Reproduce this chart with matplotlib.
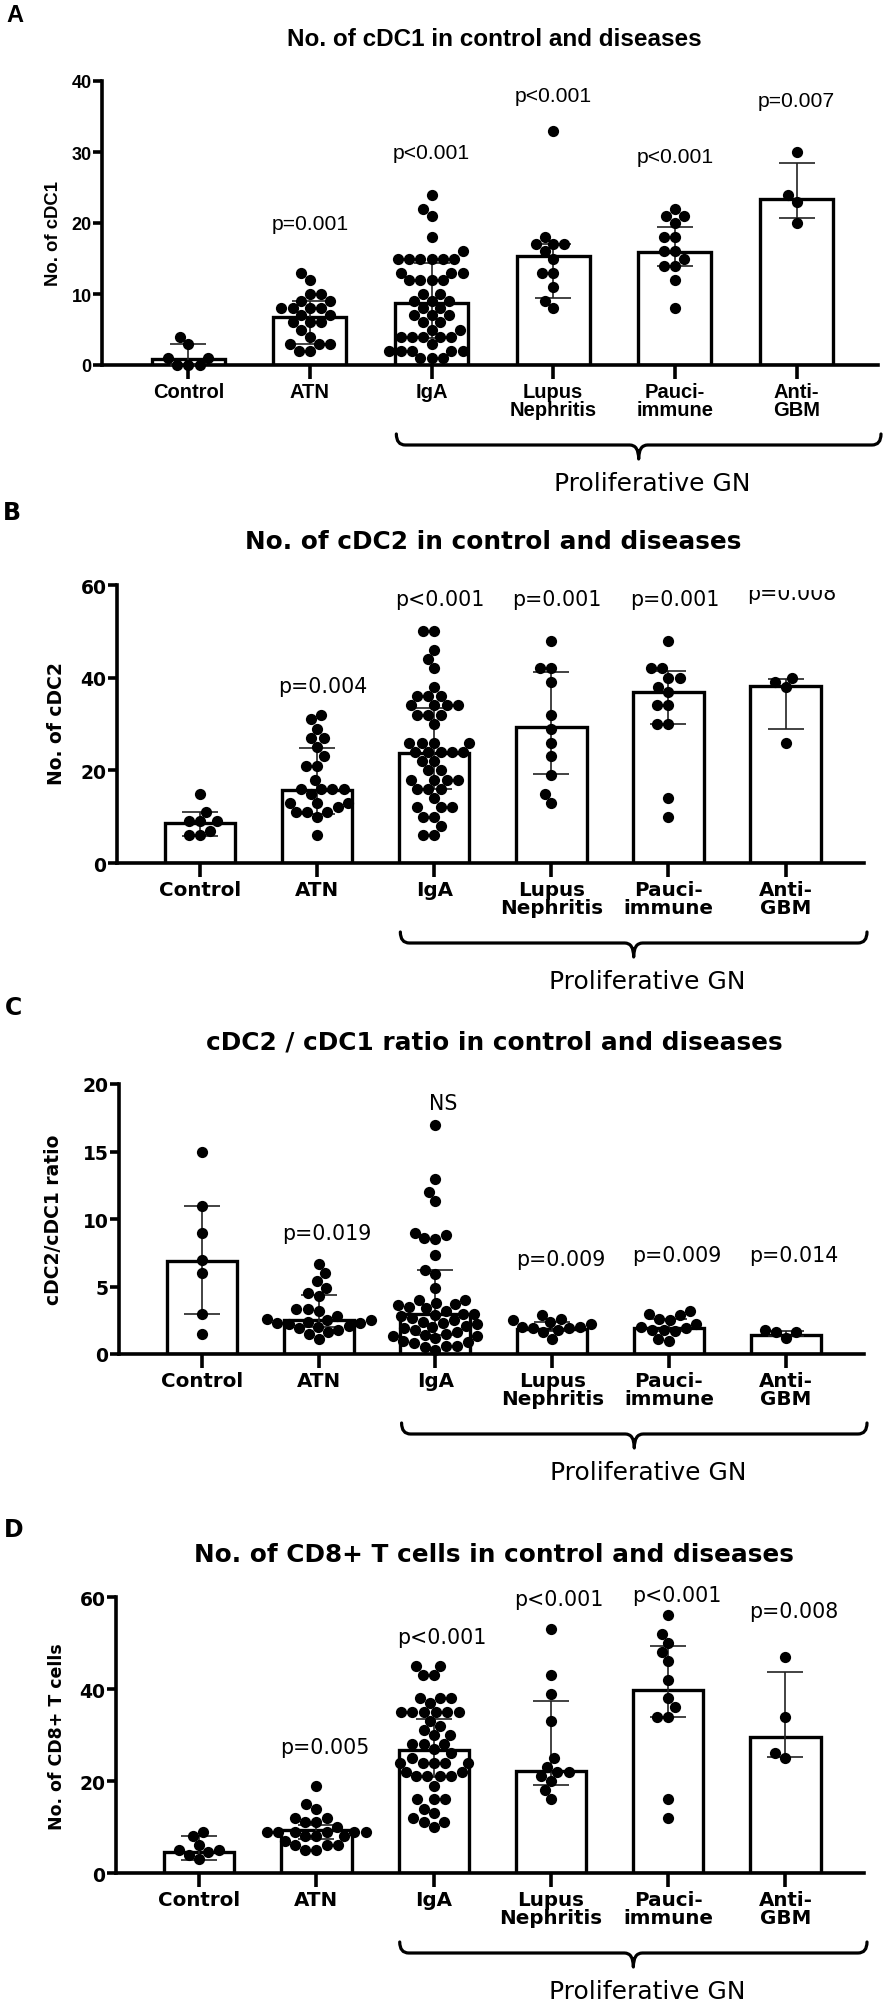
import numpy as np
import matplotlib
matplotlib.use("Agg")
import matplotlib.pyplot as plt
from matplotlib.path import Path
from matplotlib.patches import PathPatch
from matplotlib.transforms import IdentityTransform, Bbox, TransformedBbox

W, H = 886, 2006

categories = ["Control", "ATN", "IgA", "Lupus\nNephritis", "Pauci-\nimmune", "Anti-\nGBM"]

# ---------------- Panel A : No. of cDC1 ----------------
a_control = [0, 0, 0, 1, 1, 3, 4]
a_atn = [13, 12, 10, 10, 9, 9, 8, 8, 8, 8, 7, 7, 6, 6, 6, 5, 4, 3, 3, 3, 2, 2]
a_iga = [24, 22, 21, 18, 16, 15, 15, 15, 15, 15, 15, 13, 13, 13, 12, 12, 12, 12, 10, 10,
         9, 9, 9, 8, 8, 7, 7, 7, 6, 6, 5, 5, 4, 4, 4, 4, 4, 3, 2, 2, 2, 2, 2, 1, 1, 1]
a_lupus = [33, 18, 17, 17, 17, 16, 15, 13, 13, 11, 9, 8]
a_pauci = [22, 21, 21, 20, 18, 18, 16, 16, 15, 14, 14, 12, 8]
a_antigbm = [30, 24, 23, 20]
a_median = [0.8, 6.7, 8.8, 15.4, 15.9, 23.4]
a_err_low = [0.0, 3.0, 3.8, 9.5, 13.9, 20.7]
a_err_high = [3.0, 9.0, 14.4, 17.0, 19.5, 28.5]
a_pvalues = ["", "p=0.001", "p<0.001", "p<0.001", "p<0.001", "p=0.007"]
a_p_y = [0, 20.0, 29.9, 37.9, 29.4, 37.3]

# ---------------- Panel B : No. of cDC2 ----------------
b_control = [15, 11, 9, 9, 9, 7, 6, 6]
b_atn = [32, 31, 29, 27, 27, 25, 23, 21, 21, 18, 16, 16, 16, 16, 15, 13, 13, 13, 12, 11,
         11, 11, 10, 6]
b_iga = [50, 50, 46, 44, 42, 38, 36, 36, 36, 34, 34, 34, 34, 32, 32, 32, 30, 26, 26, 26,
         26, 24, 24, 24, 24, 24, 22, 22, 20, 20, 18, 18, 18, 18, 16, 16, 16, 14, 12, 12,
         12, 10, 10, 8, 6, 6]
b_lupus = [48, 42, 42, 39, 32, 29, 26, 23, 19, 15, 13]
b_pauci = [48, 42, 42, 40, 40, 38, 37, 34, 34, 30, 30, 14, 10]
b_antigbm = [40, 39, 38, 26]
b_median = [8.7, 15.8, 23.8, 29.3, 36.9, 38.3]
b_err_low = [5.8, 10.6, 16.0, 19.3, 30.0, 29.0]
b_err_high = [10.9, 24.8, 33.5, 41.3, 41.5, 39.8]
b_pvalues = ["", "p=0.004", "p<0.001", "p=0.001", "p=0.001", "p=0.008"]
b_p_y = [0, 38.3, 57.0, 57.0, 57.0, 58.2]

# ---------------- Panel C : cDC2 / cDC1 ratio ----------------
c_control = [15, 11, 9, 7, 6, 3, 1.5]
c_atn = [6.7, 6.0, 5.4, 4.9, 4.5, 4.3, 3.3, 3.3, 3.2, 2.8, 2.6, 2.5, 2.5, 2.4, 2.3, 2.3,
         2.2, 2.1, 2.0, 1.9, 1.8, 1.6, 1.5, 1.1]
c_iga = [17, 13, 12, 11.3, 9, 8.8, 8.6, 8.5, 7.3, 6.2, 5.9, 4.9, 4.0, 4.0, 3.8, 3.7, 3.6,
         3.5, 3.4, 3.2, 3.0, 3.0, 2.9, 2.8, 2.7, 2.5, 2.4, 2.3, 2.2, 2.1, 2.0, 1.9, 1.8,
         1.6, 1.5, 1.4, 1.3, 1.3, 1.2, 1.0, 0.9, 0.8, 0.6, 0.6, 0.5, 0.3]
c_lupus = [2.9, 2.6, 2.5, 2.4, 2.2, 2.0, 2.0, 1.9, 1.9, 1.8, 1.6, 1.1]
c_pauci = [3.2, 3.0, 2.9, 2.6, 2.5, 2.2, 2.0, 1.9, 1.8, 1.8, 1.7, 1.1, 1.0]
c_antigbm = [1.8, 1.6, 1.6, 1.2]
c_median = [6.9, 2.5, 3.0, 1.85, 1.9, 1.4]
c_err_low = [3.0, 2.0, 1.4, 1.7, 1.7, 1.3]
c_err_high = [11.0, 4.4, 6.2, 2.4, 2.6, 1.7]
c_pvalues = ["", "p=0.019", "NS", "p=0.009", "p=0.009", "p=0.014"]
c_p_y = [0, 9.0, 18.6, 7.0, 7.3, 7.3]

# ---------------- Panel D : No. of CD8+ T cells ----------------
d_control = [9, 8, 6, 5, 5, 4.5, 4, 3]
d_atn = [19, 15, 14, 12, 12, 11, 11, 10, 9, 9, 9, 9, 9, 9, 8, 8, 8, 7, 6, 6, 6, 5, 5]
d_iga = [45, 45, 43, 43, 38, 38, 38, 37, 35, 35, 35, 35, 35, 35, 33, 32, 31, 30, 30, 28,
         28, 28, 27, 26, 25, 24, 24, 24, 24, 24, 22, 22, 21, 21, 21, 21, 19, 16, 16, 16,
         14, 13, 12, 11, 11, 10]
d_lupus = [53, 43, 39, 33, 25, 23, 22, 22, 21, 20, 18, 16]
d_pauci = [56, 52, 50, 48, 46, 42, 38, 36, 34, 34, 16, 12]
d_antigbm = [47, 34, 26, 25]
d_median = [4.5, 9.4, 26.7, 22.2, 39.7, 29.6]
d_err_low = [2.9, 7.5, 20.8, 19.2, 33.9, 25.2]
d_err_high = [8.0, 10.5, 33.5, 37.5, 49.4, 43.6]
d_pvalues = ["", "p=0.005", "p<0.001", "p<0.001", "p<0.001", "p=0.008"]
d_p_y = [0, 27.3, 51.2, 59.6, 60.4, 57.0]

panels = [
    dict(letter="A", title="No. of cDC1 in control and diseases", ylabel="No. of cDC1",
         groups=[a_control, a_atn, a_iga, a_lupus, a_pauci, a_antigbm],
         med=a_median, lo=a_err_low, hi=a_err_high, pv=a_pvalues, pvy=a_p_y,
         ymax=40, yticks=[0, 10, 20, 30, 40],
         box=(102, 878, 82, 366), fam="Liberation Sans",
         title_xy=(494, 40), title_fs=17.5, letter_xy=(15, 16),
         ylab_xy=(54, 234), ylab_fs=13.3, ytick_fs=13, xtick_fs=14.5, p_fs=15.2, p_dx=0.0,
         p_clip_top=None),
    dict(letter="B", title="No. of cDC2 in control and diseases", ylabel="No. of cDC2",
         groups=[b_control, b_atn, b_iga, b_lupus, b_pauci, b_antigbm],
         med=b_median, lo=b_err_low, hi=b_err_high, pv=b_pvalues, pvy=b_p_y,
         ymax=60, yticks=[0, 20, 40, 60],
         box=(117, 864, 586, 864), fam="DejaVu Sans",
         title_xy=(493, 542), title_fs=17.8, letter_xy=(12, 513),
         ylab_xy=(57, 724), ylab_fs=13.5, ytick_fs=13.5, xtick_fs=14.3, p_fs=14.8, p_dx=0.05,
         p_clip_top=591),
    dict(letter="C", title="cDC2 / cDC1 ratio in control and diseases", ylabel="cDC2/cDC1 ratio",
         groups=[c_control, c_atn, c_iga, c_lupus, c_pauci, c_antigbm],
         med=c_median, lo=c_err_low, hi=c_err_high, pv=c_pvalues, pvy=c_p_y,
         ymax=20, yticks=[0, 5, 10, 15, 20],
         box=(119, 864, 1085, 1355), fam="DejaVu Sans",
         title_xy=(494, 1043), title_fs=17.8, letter_xy=(14, 1008),
         ylab_xy=(54, 1220), ylab_fs=13.5, ytick_fs=13.5, xtick_fs=14.3, p_fs=14.8, p_dx=0.07,
         p_clip_top=None),
    dict(letter="D", title="No. of CD8+ T cells in control and diseases", ylabel="No. of CD8+ T cells",
         groups=[d_control, d_atn, d_iga, d_lupus, d_pauci, d_antigbm],
         med=d_median, lo=d_err_low, hi=d_err_high, pv=d_pvalues, pvy=d_p_y,
         ymax=60, yticks=[0, 20, 40, 60],
         box=(116, 864, 1598, 1874), fam="DejaVu Sans",
         title_xy=(494, 1555), title_fs=17.8, letter_xy=(14, 1530),
         ylab_xy=(57, 1737), ylab_fs=12.5, ytick_fs=13.5, xtick_fs=14.3, p_fs=14.8, p_dx=0.07,
         p_clip_top=None),
]

fig = plt.figure(figsize=(W / 100, H / 100), dpi=100)
fig.patch.set_facecolor("white")

DOT = 11.2  # dot diameter in px


def swarm(ax, xc, vals, d=DOT):
    pts = ax.transData.transform(np.column_stack([np.full(len(vals), xc), vals]))
    ys = pts[:, 1]
    order = np.argsort(ys, kind="stable")
    placed = []
    offs = np.zeros(len(vals))
    for i in order:
        y = ys[i]
        cands = [0.0]
        for px, py in placed:
            dy = abs(py - y)
            if dy < d:
                dx = np.sqrt(d * d - dy * dy)
                cands += [px + dx, px - dx]
        cands.sort(key=lambda c: (round(abs(c), 6), c))
        for c in cands:
            ok = all((c - px) ** 2 + (y - py) ** 2 >= d * d - 1e-6 for px, py in placed)
            if ok:
                offs[i] = c
                placed.append((c, y))
                break
    xs = ax.transData.inverted().transform(np.column_stack([pts[:, 0] + offs, ys]))[:, 0]
    return xs


def brace(x0, x1, ytop, yh, ytip, r=9):
    xm = (x0 + x1) / 2
    verts = [(x0, ytop), (x0, yh), (x0 + r, yh),
             (xm - r, yh),
             (xm, yh), (xm, ytip),
             (xm, yh), (xm + r, yh),
             (x1 - r, yh),
             (x1, yh), (x1, ytop)]
    codes = [Path.MOVETO, Path.CURVE3, Path.CURVE3,
             Path.LINETO,
             Path.CURVE3, Path.CURVE3,
             Path.CURVE3, Path.CURVE3,
             Path.LINETO,
             Path.CURVE3, Path.CURVE3]
    return Path(verts, codes)


xpos = np.arange(len(categories))

for p in panels:
    l, r, t, b = p["box"]
    ax = fig.add_axes([l / W, 1 - b / H, (r - l) / W, (b - t) / H])
    ax.set_xlim(-0.71, 5.67)
    ax.set_ylim(0, p["ymax"])
    fam = p["fam"]

    ax.bar(xpos, p["med"], width=0.60, color="white", edgecolor="black",
           linewidth=2.4, zorder=2)
    med = np.array(p["med"])
    lo = np.array(p["lo"])
    hi = np.array(p["hi"])
    ax.errorbar(xpos, med, yerr=[med - lo, hi - med], fmt="none", ecolor="#222222",
                elinewidth=1.2, capsize=13, capthick=1.2, zorder=3)

    for i, g in enumerate(p["groups"]):
        xs = swarm(ax, xpos[i], g)
        ax.scatter(xs, g, s=DOT ** 2 * 0.52, color="black", linewidths=0, zorder=4,
                   clip_on=False)

    for i, txt in enumerate(p["pv"]):
        if txt:
            tx = ax.text(xpos[i] + p["p_dx"], p["pvy"][i], txt, ha="center", va="center",
                         fontsize=p["p_fs"], family=fam, clip_on=False)
            if p["p_clip_top"] is not None and i == len(categories) - 1:
                cb = TransformedBbox(Bbox([[0, 0], [W, H - p["p_clip_top"]]]),
                                     IdentityTransform())
                tx.set_clip_box(cb)
                tx.set_clip_on(True)

    for s in ["top", "right"]:
        ax.spines[s].set_visible(False)
    for s in ["left", "bottom"]:
        ax.spines[s].set_linewidth(2.6)
    ax.set_yticks(p["yticks"])
    ax.set_yticklabels([str(v) for v in p["yticks"]], fontsize=p["ytick_fs"],
                       fontweight="bold", family=fam)
    ax.set_xticks(xpos)
    ax.set_xticklabels(categories, fontsize=p["xtick_fs"], fontweight="bold",
                       family=fam, linespacing=0.95)
    ax.tick_params(axis="x", length=10, width=2.6, pad=2)
    ax.tick_params(axis="y", length=6.5, width=2.6, pad=1)
    ax.set_facecolor("none")

    # labels outside axes
    fig.text(p["letter_xy"][0] / W, 1 - p["letter_xy"][1] / H, p["letter"],
             fontsize=17, fontweight="bold", family=fam, ha="center", va="center")
    fig.text(p["title_xy"][0] / W, 1 - p["title_xy"][1] / H, p["title"],
             fontsize=p["title_fs"], fontweight="bold", family=fam, ha="center", va="center")
    fig.text(p["ylab_xy"][0] / W, 1 - p["ylab_xy"][1] / H, p["ylabel"],
             fontsize=p["ylab_fs"], fontweight="bold", family=fam, rotation=90,
             ha="center", va="center")

    # bracket for proliferative GN
    y0 = ax.transData.transform((0, 0))[1]
    xa = ax.transData.transform((2 - 0.29, 0))[0]
    xb = ax.transAxes.transform((1, 0))[0] + 3
    path = brace(xa, xb, y0 - 69, y0 - 80, y0 - 94)
    fig.add_artist(PathPatch(path, transform=IdentityTransform(), facecolor="none",
                             edgecolor="black", linewidth=2.3, capstyle="round",
                             joinstyle="round"))
    fig.text(((xa + xb) / 2 + 14) / W, (y0 - 118) / H, "Proliferative GN",
             fontsize=18, family="DejaVu Sans", ha="center", va="center")

fig.savefig("out.png", dpi=100, facecolor="white")
